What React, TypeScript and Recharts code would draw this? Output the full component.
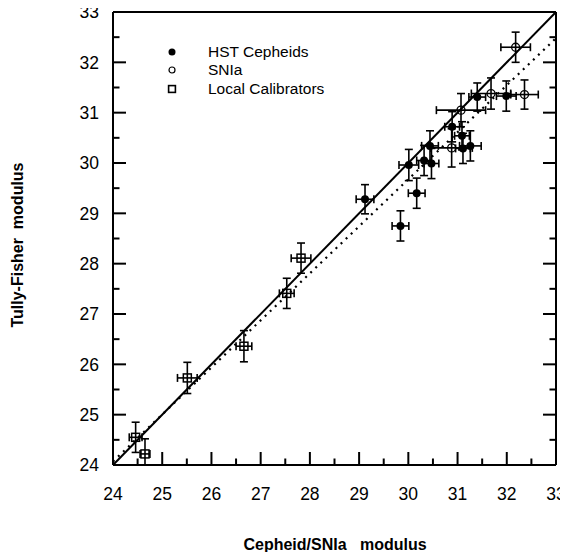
import React from 'react';
import { ScatterChart, Scatter, XAxis, YAxis, ErrorBar, ReferenceLine } from 'recharts';

// ---- data ----
const axisTicks = [24, 24.5, 25, 25.5, 26, 26.5, 27, 27.5, 28, 28.5, 29, 29.5, 30, 30.5, 31, 31.5, 32, 32.5, 33];

const cepheidX = [29.12, 29.84, 30.01, 30.17, 30.32, 30.47, 30.44, 30.89, 31.09, 31.11, 31.26, 31.40, 31.99];
const cepheidY = [29.28, 28.75, 29.96, 29.40, 30.05, 29.99, 30.34, 30.72, 30.54, 30.29, 30.34, 31.31, 31.33];
const cepheidXErr = [0.18, 0.17, 0.20, 0.17, 0.15, 0.15, 0.17, 0.15, 0.15, 0.15, 0.22, 0.17, 0.20];
const cepheidYErr = [0.29, 0.30, 0.31, 0.30, 0.30, 0.30, 0.30, 0.30, 0.28, 0.30, 0.30, 0.28, 0.30];

const snX = [32.18, 31.68, 32.36, 31.07, 30.88];
const snY = [32.30, 31.38, 31.36, 31.05, 30.30];
const snXErr = [0.30, 0.40, 0.28, 0.50, 0.42];
const snYErr = [0.30, 0.31, 0.29, 0.33, 0.38];

const calX = [24.46, 24.65, 25.51, 26.66, 27.53, 27.82];
const calY = [24.55, 24.22, 25.73, 26.36, 27.41, 28.11];
const calXErr = [0.13, 0.10, 0.20, 0.16, 0.15, 0.20];
const calYErrLow = [0.30, 0.22, 0.31, 0.31, 0.30, 0.30];
const calYErrHigh = [0.30, 0.30, 0.31, 0.31, 0.30, 0.30];

const identityLine = [{ x: 24, y: 24 }, { x: 33, y: 33 }];
const fitLine = [{ x: 24, y: 24.07 }, { x: 33, y: 32.48 }];

const legendLabels = ['HST Cepheids', 'SNIa', 'Local Calibrators'];

// ---- build ----
const cepheids = cepheidX.map((x, i) => ({ x, y: cepheidY[i], ex: cepheidXErr[i], ey: cepheidYErr[i] }));
const sne = snX.map((x, i) => ({ x, y: snY[i], ex: snXErr[i], ey: snYErr[i] }));
const cals = calX.map((x, i) => ({ x, y: calY[i], ex: calXErr[i], ey: [calYErrLow[i], calYErrHigh[i]] }));

const FONT = '"Liberation Sans", Arial, Helvetica, sans-serif';
const MAJOR = 13;
const MINOR = 6.5;

const isMajor = (v: number) => Math.abs(v - Math.round(v)) < 1e-6;

const BottomTick = (p: any) => {
  const { x, y, payload } = p;
  const m = isMajor(payload.value);
  return (
    <g>
      <line x1={x} x2={x} y1={y} y2={y - (m ? MAJOR : MINOR)} stroke="#000" strokeWidth={2} />
      {m && (
        <text x={x} y={y + 34.5} textAnchor="middle" fontSize={17.5} fontFamily={FONT} fill="#000">
          {payload.value}
        </text>
      )}
    </g>
  );
};
const TopTick = (p: any) => {
  const { x, y, payload } = p;
  const m = isMajor(payload.value);
  return <line x1={x} x2={x} y1={y} y2={y + (m ? MAJOR : MINOR)} stroke="#000" strokeWidth={2} />;
};
const LeftTick = (p: any) => {
  const { x, y, payload } = p;
  const m = isMajor(payload.value);
  return (
    <g>
      <line x1={x} x2={x + (m ? MAJOR : MINOR)} y1={y} y2={y} stroke="#000" strokeWidth={2} />
      {m && (
        <text x={x - 14} y={y + 6.3} textAnchor="end" fontSize={17.5} fontFamily={FONT} fill="#000">
          {payload.value}
        </text>
      )}
    </g>
  );
};
const RightTick = (p: any) => {
  const { x, y, payload } = p;
  const m = isMajor(payload.value);
  return <line x1={x} x2={x - (m ? MAJOR : MINOR)} y1={y} y2={y} stroke="#000" strokeWidth={2} />;
};

const FilledDot = (p: any) => <circle cx={p.cx} cy={p.cy} r={4} fill="#000" />;
const OpenDot = (p: any) => <circle cx={p.cx} cy={p.cy} r={4} fill="none" stroke="#000" strokeWidth={1.3} />;
const SquareDot = (p: any) => (
  <rect x={p.cx - 4} y={p.cy - 4} width={8} height={8} fill="none" stroke="#000" strokeWidth={1.5} />
);

const LegendSymbol = ({ kind }: { kind: number }) => (
  <svg width={16} height={16} style={{ display: 'block' }}>
    {kind === 0 && <circle cx={8} cy={8} r={3.5} fill="#000" />}
    {kind === 1 && <circle cx={8} cy={8} r={3} fill="none" stroke="#000" strokeWidth={1.2} />}
    {kind === 2 && <rect x={4.6} y={4.6} width={6.8} height={6.8} fill="none" stroke="#000" strokeWidth={1.6} />}
  </svg>
);

const errStyle = { stroke: '#000', strokeWidth: 1.6 };

const axisLineStyle = { stroke: '#000', strokeWidth: 2 };

export default function App() {
  return (
    <div style={{ position: 'relative', width: 568, height: 552, margin: '-8px 0 0 -8px', fontFamily: FONT }}>
      <ScatterChart width={568} height={552} margin={{ top: 11, right: 11, bottom: 86, left: 112 }}>
        <XAxis
          type="number"
          dataKey="x"
          xAxisId={0}
          domain={[24, 33]}
          ticks={axisTicks}
          interval={0}
          height={1}
          tickSize={0}
          tickMargin={0}
          tickLine={false}
          axisLine={axisLineStyle}
          tick={<BottomTick />}
          allowDataOverflow
        />
        <XAxis
          type="number"
          xAxisId="top"
          orientation="top"
          domain={[24, 33]}
          ticks={axisTicks}
          interval={0}
          height={1}
          tickSize={0}
          tickMargin={0}
          tickLine={false}
          axisLine={axisLineStyle}
          tick={<TopTick />}
          allowDataOverflow
        />
        <YAxis
          type="number"
          dataKey="y"
          yAxisId={0}
          domain={[24, 33]}
          ticks={axisTicks}
          interval={0}
          width={1}
          tickSize={0}
          tickMargin={0}
          tickLine={false}
          axisLine={axisLineStyle}
          tick={<LeftTick />}
          allowDataOverflow
        />
        <YAxis
          type="number"
          yAxisId="right"
          orientation="right"
          domain={[24, 33]}
          ticks={axisTicks}
          interval={0}
          width={1}
          tickSize={0}
          tickMargin={0}
          tickLine={false}
          axisLine={axisLineStyle}
          tick={<RightTick />}
          allowDataOverflow
        />
        <ReferenceLine segment={identityLine} stroke="#000" strokeWidth={2} ifOverflow="visible" />
        <ReferenceLine segment={fitLine} stroke="#000" strokeWidth={2.2} strokeDasharray="2 5" ifOverflow="visible" />
        <Scatter name={legendLabels[0]} data={cepheids} shape={<FilledDot />} isAnimationActive={false}>
          <ErrorBar dataKey="ex" direction="x" width={4} {...errStyle} isAnimationActive={false} />
          <ErrorBar dataKey="ey" direction="y" width={4} {...errStyle} isAnimationActive={false} />
        </Scatter>
        <Scatter name={legendLabels[1]} data={sne} shape={<OpenDot />} isAnimationActive={false}>
          <ErrorBar dataKey="ex" direction="x" width={4} {...errStyle} isAnimationActive={false} />
          <ErrorBar dataKey="ey" direction="y" width={4} {...errStyle} isAnimationActive={false} />
        </Scatter>
        <Scatter name={legendLabels[2]} data={cals} shape={<SquareDot />} isAnimationActive={false}>
          <ErrorBar dataKey="ex" direction="x" width={4} {...errStyle} isAnimationActive={false} />
          <ErrorBar dataKey="ey" direction="y" width={4} {...errStyle} isAnimationActive={false} />
        </Scatter>
      </ScatterChart>
      <div
        style={{
          position: 'absolute',
          left: 164,
          top: 42.8,
          fontFamily: FONT,
          fontSize: 15.5,
          color: '#000',
        }}
      >
        {legendLabels.map((label, i) => (
          <div key={label} style={{ display: 'flex', alignItems: 'center', height: 18.4 }}>
            <LegendSymbol kind={i} />
            <span style={{ marginLeft: 28, lineHeight: '18px', whiteSpace: 'nowrap' }}>{label}</span>
          </div>
        ))}
      </div>
      <div
        style={{
          position: 'absolute',
          left: 335,
          top: 545,
          transform: 'translate(-50%, -50%)',
          fontSize: 16,
          fontWeight: 'bold',
          whiteSpace: 'pre',
          color: '#000',
          lineHeight: 1,
        }}
      >
        {'Cepheid/SNIa   modulus'}
      </div>
      <div
        style={{
          position: 'absolute',
          left: 18,
          top: 245,
          transform: 'translate(-50%, -50%) rotate(-90deg)',
          fontSize: 16,
          fontWeight: 'bold',
          whiteSpace: 'pre',
          color: '#000',
          lineHeight: 1,
        }}
      >
        {'Tully-Fisher  modulus'}
      </div>
    </div>
  );
}
